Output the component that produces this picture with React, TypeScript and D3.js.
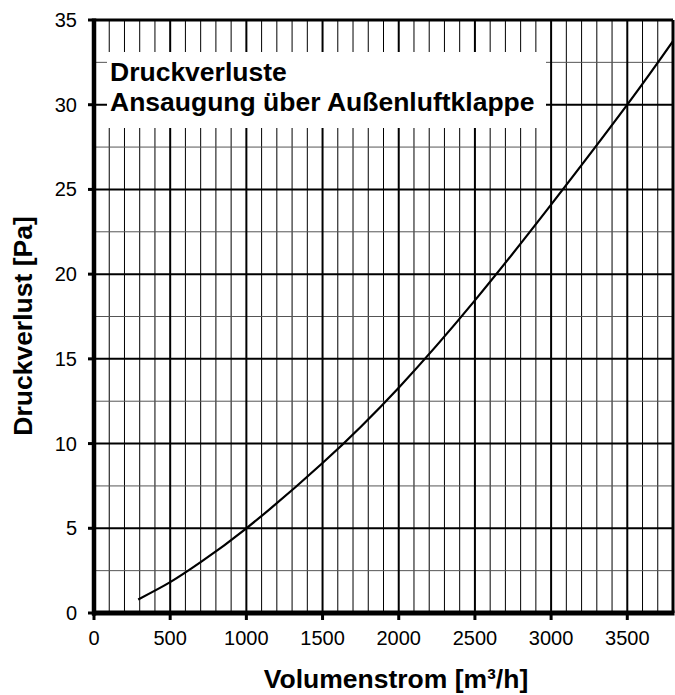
import React from "react";
import * as d3 from "d3";

const flowValues = [290, 500, 700, 1000, 1500, 2000, 2500, 3000, 3500, 3800];
const pressureValues = [0.8, 1.82, 3.0, 5.0, 8.85, 13.3, 18.45, 24.1, 30.0, 33.75];
const xTicks = [0, 500, 1000, 1500, 2000, 2500, 3000, 3500];
const yTicks = [0, 5, 10, 15, 20, 25, 30, 35];
const titleLines = ["Druckverluste", "Ansaugung über Außenluftklappe"];
const xTitle = "Volumenstrom [m³/h]";
const yTitle = "Druckverlust [Pa]";

const W = 675;
const H = 695;
const FONT = "'Liberation Sans', Arial, Helvetica, sans-serif";

export default function App() {
  const x = d3.scaleLinear().domain([0, 3800]).range([94, 673]);
  const y = d3.scaleLinear().domain([0, 35]).range([613, 20]);

  const minorX = d3.range(100, 3800, 100).filter((v) => v % 500 !== 0);
  const majorX = d3.range(500, 3800, 500);
  const minorY = d3.range(2.5, 35, 5);
  const majorY = d3.range(5, 35, 5);

  const pts: [number, number][] = flowValues.map((f, i) => [f, pressureValues[i]]);
  const line = d3
    .line<[number, number]>()
    .x((d) => x(d[0]))
    .y((d) => y(d[1]))
    .curve(d3.curveNatural);

  return (
    <svg
      width={W}
      height={H}
      style={{ position: "absolute", left: 0, top: 0, background: "#fff" }}
      fontFamily={FONT}
    >
      <rect x={0} y={0} width={W} height={H} fill="#fff" />
      {minorX.map((v) => (
        <line key={"mx" + v} x1={x(v)} x2={x(v)} y1={y(0)} y2={y(35)} stroke="#000" strokeWidth={1} />
      ))}
      {minorY.map((v) => (
        <line key={"my" + v} x1={x(0)} x2={x(3800)} y1={y(v)} y2={y(v)} stroke="#555" strokeWidth={1} />
      ))}
      {majorX.map((v) => (
        <line key={"Mx" + v} x1={x(v)} x2={x(v)} y1={y(0)} y2={y(35)} stroke="#000" strokeWidth={2} />
      ))}
      {majorY.map((v) => (
        <line key={"My" + v} x1={x(0)} x2={x(3800)} y1={y(v)} y2={y(v)} stroke="#000" strokeWidth={2} />
      ))}
      {/* title box */}
      <rect x={107} y={52} width={439} height={76} fill="#fff" />
      <text x={110} y={81} fontSize={26.5} fontWeight="bold" fill="#000">
        {titleLines[0]}
      </text>
      <text x={110} y={111} fontSize={26.5} fontWeight="bold" fill="#000">
        {titleLines[1]}
      </text>
      {/* curve */}
      <path d={line(pts) || ""} fill="none" stroke="#000" strokeWidth={2.2} />
      {/* frame */}
      <line x1={x(0)} x2={x(3800)} y1={y(35)} y2={y(35)} stroke="#000" strokeWidth={3} />
      <line x1={x(3800)} x2={x(3800)} y1={y(0)} y2={y(35)} stroke="#000" strokeWidth={3} />
      <line x1={x(0)} x2={x(0)} y1={y(0) + 2.5} y2={y(35) - 1.5} stroke="#000" strokeWidth={4.5} />
      <line x1={x(0) - 2} x2={x(3800) + 1.5} y1={y(0)} y2={y(0)} stroke="#000" strokeWidth={5} />
      {/* ticks */}
      {xTicks.map((v) => (
        <g key={"xt" + v}>
          <line x1={x(v)} x2={x(v)} y1={y(0)} y2={y(0) + 7} stroke="#000" strokeWidth={3} />
          <text x={x(v)} y={645} fontSize={20} textAnchor="middle" fill="#000">
            {v}
          </text>
        </g>
      ))}
      {yTicks.map((v) => (
        <g key={"yt" + v}>
          <line x1={x(0) - 6} x2={x(0)} y1={y(v)} y2={y(v)} stroke="#000" strokeWidth={3} />
          <text x={77} y={y(v)} dy="0.35em" fontSize={20} textAnchor="end" fill="#000">
            {v}
          </text>
        </g>
      ))}
      <text x={396} y={688} fontSize={26.5} fontWeight="bold" textAnchor="middle" fill="#000">
        {xTitle}
      </text>
      <text
        transform={`translate(32, 326) rotate(-90)`}
        fontSize={26.5}
        fontWeight="bold"
        textAnchor="middle"
        fill="#000"
      >
        {yTitle}
      </text>
    </svg>
  );
}
